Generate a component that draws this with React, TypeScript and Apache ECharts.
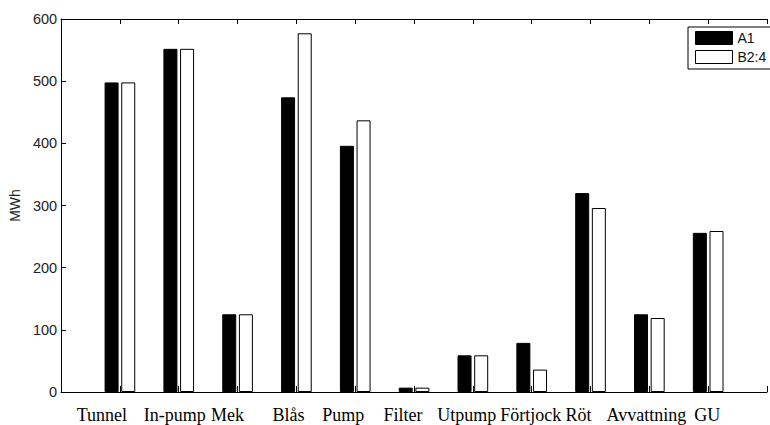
import React, { useEffect, useRef } from "react";
import * as echarts from "echarts";

const CATEGORIES = ["Tunnel", "In-pump", "Mek", "Blås", "Pump", "Filter", "Utpump", "Förtjock", "Röt", "Avvattning", "GU"];
const A1 = [498, 552, 125, 474, 396, 7, 59, 79, 320, 125, 256];
const B24 = [498, 552, 125, 577, 437, 7, 59, 36, 296, 119, 259];
const SERIES_NAMES = ["A1", "B2:4"];
const Y_TICKS = [0, 100, 200, 300, 400, 500, 600];

// horizontal nudge of each category label (px), as placed in the reference
const LABEL_SHIFT = [-18, -4, -10, -8, -12, -11, -6, -1, -12, -3, -1];

export default function App() {
  const ref = useRef<HTMLDivElement>(null);
  useEffect(() => {
    if (!ref.current) return;
    const chart = echarts.init(ref.current, undefined, { renderer: "svg" });
    const rich: Record<string, any> = {};
    LABEL_SHIFT.forEach((s, i) => {
      rich["l" + i] = {
        fontFamily: "Liberation Serif",
        fontSize: 18,
        color: "#000",
        padding: [0, s < 0 ? -2 * s : 0, 0, s > 0 ? 2 * s : 0],
      };
    });
    const sans = "Liberation Sans";
    chart.setOption({
      animation: false,
      backgroundColor: "#fff",
      grid: { left: 61, top: 19, width: 716, height: 373, containLabel: false },
      legend: {
        orient: "vertical",
        left: 688,
        top: 27,
        padding: [4, 20, 5, 7],
        itemWidth: 37,
        itemHeight: 13,
        itemGap: 5,
        borderColor: "#000",
        borderWidth: 1,
        backgroundColor: "#fff",
        icon: "rect",
        textStyle: { fontFamily: sans, fontSize: 14, color: "#111", lineHeight: 13, padding: [0, 0, 0, 0] },
        itemStyle: { borderColor: "#000", borderWidth: 1 },
        data: SERIES_NAMES,
      },
      xAxis: [
        {
          type: "value",
          position: "bottom",
          min: 0,
          max: CATEGORIES.length + 1,
          interval: 1,
          splitLine: { show: false },
          axisLine: { show: true, lineStyle: { color: "#000", width: 1 } },
          axisTick: { show: true, inside: true, length: 6, lineStyle: { color: "#000" } },
          axisLabel: {
            margin: 14,
            showMinLabel: true,
            showMaxLabel: true,
            formatter: (v: number) => {
              const i = Math.round(v) - 1;
              return i >= 0 && i < CATEGORIES.length ? `{l${i}|${CATEGORIES[i]}}` : "";
            },
            rich,
          },
        },
        {
          type: "value",
          position: "top",
          min: 0,
          max: CATEGORIES.length + 1,
          interval: 1,
          splitLine: { show: false },
          axisLine: { show: true, lineStyle: { color: "#000", width: 1 } },
          axisTick: { show: true, inside: true, length: 5, lineStyle: { color: "#000" } },
          axisLabel: { show: false },
        },
      ],
      yAxis: {
        type: "value",
        min: Y_TICKS[0],
        max: Y_TICKS[Y_TICKS.length - 1],
        interval: 100,
        name: "MWh",
        nameLocation: "middle",
        nameGap: 36,
        nameTextStyle: { fontFamily: sans, fontSize: 14, color: "#222" },
        splitLine: { show: false },
        axisLine: { show: true, lineStyle: { color: "#000", width: 1 } },
        axisTick: { show: true, inside: true, length: 5, lineStyle: { color: "#000" } },
        axisLabel: { margin: 4, fontFamily: sans, fontSize: 14.5, color: "#222" },
      },
      series: [
        {
          name: SERIES_NAMES[0],
          type: "bar",
          barWidth: 14,
          barGap: "19%",
          data: A1.map((v, i) => [i + 1, v]),
          itemStyle: { color: "#000", borderColor: "#000", borderWidth: 1 },
        },
        {
          name: SERIES_NAMES[1],
          type: "bar",
          barWidth: 14,
          barGap: "19%",
          data: B24.map((v, i) => [i + 1, v]),
          itemStyle: { color: "#fff", borderColor: "#000", borderWidth: 1 },
        },
      ],
    });
    return () => chart.dispose();
  }, []);
  return (
    <div
      ref={ref}
      style={{ position: "fixed", left: 0, top: 0, width: 770, height: 425, overflow: "hidden" }}
    />
  );
}
